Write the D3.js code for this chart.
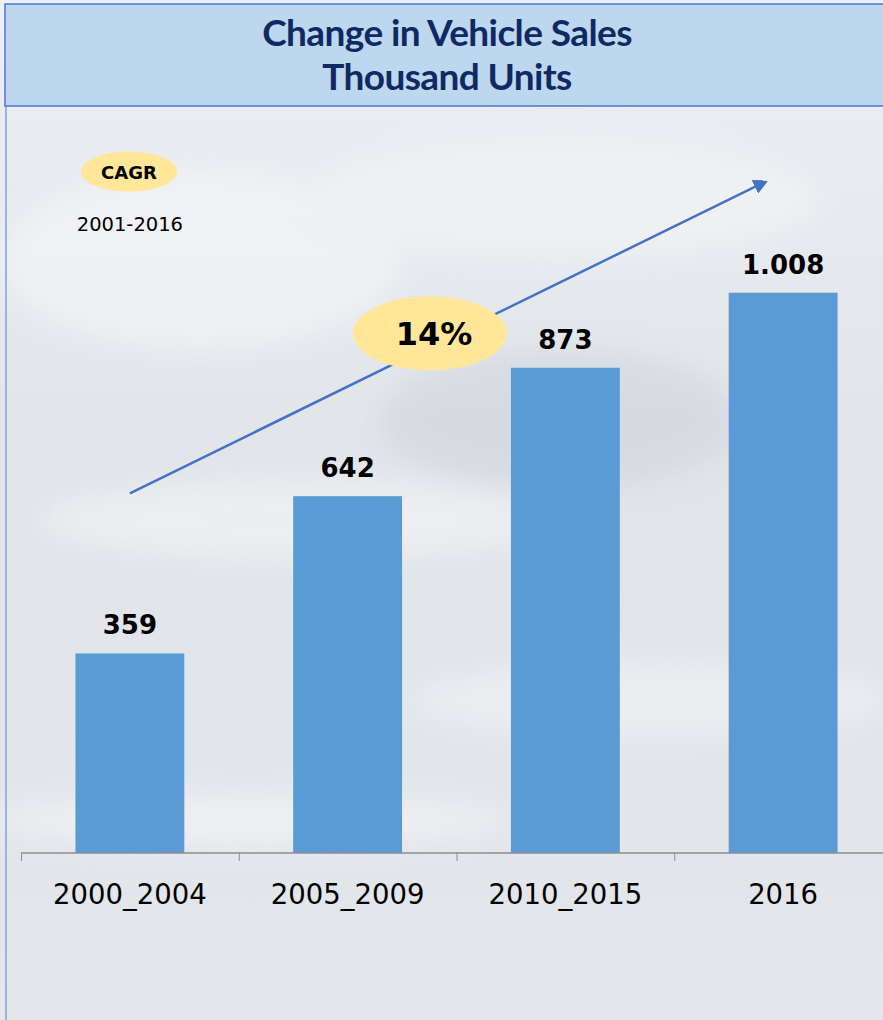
<!DOCTYPE html>
<html>
<head>
<meta charset="utf-8">
<script src="https://cdn.jsdelivr.net/npm/d3@7/dist/d3.min.js"></script>
<style>
  html, body { margin: 0; padding: 0; background: #e6e9ee; }
  svg { display: block; }
</style>
</head>
<body>
<div id="chart"></div>
<script>
// chart data
const categories = ['2000_2004', '2005_2009', '2010_2015', '2016'];
const sales = [359, 642, 873, 1008];
const valueLabels = ['359', '642', '873', '1.008'];
const titleLines = ['Change in Vehicle Sales', 'Thousand Units'];
const cagrText = '14%';
const cagrPeriod = '2001-2016';

const width = 883, height = 1020;

const svg = d3.select('#chart').append('svg')
  .attr('width', width)
  .attr('height', height);

const defs = svg.append('defs');

// soft photo-like backdrop
const bg = defs.append('linearGradient').attr('id', 'bg')
  .attr('x1', 0).attr('y1', 0).attr('x2', 0).attr('y2', 1);
bg.append('stop').attr('offset', '0%').attr('stop-color', '#eceff3');
bg.append('stop').attr('offset', '45%').attr('stop-color', '#e1e4e9');
bg.append('stop').attr('offset', '100%').attr('stop-color', '#e3e6eb');

defs.append('filter').attr('id', 'blur')
  .append('feGaussianBlur').attr('stdDeviation', 14);

defs.append('marker').attr('id', 'arrowhead')
  .attr('viewBox', '0 0 10 10')
  .attr('refX', 8).attr('refY', 5)
  .attr('markerWidth', 6).attr('markerHeight', 6)
  .attr('markerUnits', 'strokeWidth')
  .attr('orient', 'auto')
  .append('path').attr('d', 'M0,0 L10,5 L0,10 Z').attr('fill', '#4472c4');

svg.append('rect').attr('width', width).attr('height', height).attr('fill', 'url(#bg)');

// a few faint smears for the washed-out photo texture
const smears = svg.append('g').attr('filter', 'url(#blur)').attr('opacity', 0.55);
smears.append('ellipse').attr('cx', 200).attr('cy', 260).attr('rx', 200).attr('ry', 90).attr('fill', '#f7f8fa');
smears.append('ellipse').attr('cx', 560).attr('cy', 200).attr('rx', 260).attr('ry', 60).attr('fill', '#f4f6f8');
smears.append('ellipse').attr('cx', 560).attr('cy', 420).attr('rx', 180).attr('ry', 70).attr('fill', '#cfd4db');
smears.append('ellipse').attr('cx', 300).attr('cy', 520).attr('rx', 260).attr('ry', 40).attr('fill', '#f5f6f8');
smears.append('ellipse').attr('cx', 650).attr('cy', 700).attr('rx', 240).attr('ry', 35).attr('fill', '#f3f5f7');
smears.append('ellipse').attr('cx', 250).attr('cy', 820).attr('rx', 260).attr('ry', 25).attr('fill', '#f6f7f9');

// left frame line
svg.append('line')
  .attr('x1', 6).attr('x2', 6).attr('y1', 106).attr('y2', height)
  .attr('stroke', '#9db3de').attr('stroke-width', 2);

// title band
svg.append('rect')
  .attr('x', 5).attr('y', 4).attr('width', width).attr('height', 102)
  .attr('fill', '#bdd7ee').attr('stroke', '#4a78cc').attr('stroke-width', 1.5);

svg.append('g').selectAll('text')
  .data(titleLines)
  .join('text')
  .attr('x', 447)
  .attr('y', (d, i) => 46 + i * 44)
  .attr('text-anchor', 'middle')
  .attr('font-family', 'Lato, sans-serif')
  .attr('font-weight', 700)
  .attr('font-size', 37)
  .attr('letter-spacing', -0.6)
  .attr('fill', '#0f2a63')
  .text(d => d);

// scales
const x = d3.scaleBand()
  .domain(categories)
  .range([21, 892])
  .paddingInner(0.5)
  .paddingOuter(0.25);

const xi = d3.scaleLinear().domain([0, categories.length]).range([21, 892]);

const y = d3.scaleLinear()
  .domain([0, 1200])
  .range([853, 186]);

// bars
svg.append('g').selectAll('rect')
  .data(sales)
  .join('rect')
  .attr('x', (d, i) => x(categories[i]))
  .attr('y', d => y(d))
  .attr('width', x.bandwidth())
  .attr('height', d => y(0) - y(d))
  .attr('fill', '#5b9bd5');

// value labels
svg.append('g').selectAll('text')
  .data(sales)
  .join('text')
  .attr('x', (d, i) => x(categories[i]) + x.bandwidth() / 2)
  .attr('y', d => y(d) - 19)
  .attr('text-anchor', 'middle')
  .attr('font-family', 'DejaVu Sans, sans-serif')
  .attr('font-weight', 700)
  .attr('font-size', 26)
  .attr('fill', '#000')
  .text((d, i) => valueLabels[i]);

// axis: tick marks at category boundaries
const tickAxis = svg.append('g')
  .attr('transform', `translate(0,${y(0)})`)
  .call(d3.axisBottom(xi).tickValues(d3.range(categories.length + 1)).tickSize(8).tickSizeOuter(0).tickFormat(''));
tickAxis.select('.domain').remove();
tickAxis.selectAll('line').attr('stroke', '#8c8c8c');

svg.append('line')
  .attr('x1', xi(0)).attr('x2', width)
  .attr('y1', y(0)).attr('y2', y(0))
  .attr('stroke', '#8c8c8c').attr('stroke-width', 1.5);

const labelAxis = svg.append('g')
  .attr('transform', `translate(0,${y(0)})`)
  .call(d3.axisBottom(x).tickSize(0).tickPadding(31));
labelAxis.select('.domain').remove();
labelAxis.selectAll('text')
  .attr('font-family', 'DejaVu Sans, sans-serif')
  .attr('font-size', 27.5)
  .attr('fill', '#000');

// CAGR trend arrow
svg.append('line')
  .attr('x1', xi(0.5)).attr('y1', y(647))
  .attr('x2', xi(3.42)).attr('y2', y(1208))
  .attr('stroke', '#4472c4').attr('stroke-width', 2.5)
  .attr('marker-end', 'url(#arrowhead)');

// CAGR badge (legend)
svg.append('ellipse')
  .attr('cx', xi(0.496)).attr('cy', y(1226))
  .attr('rx', 48).attr('ry', 20)
  .attr('fill', '#ffe699');
svg.append('text')
  .attr('x', xi(0.496)).attr('y', y(1226) + 7)
  .attr('text-anchor', 'middle')
  .attr('font-family', 'DejaVu Sans, sans-serif')
  .attr('font-weight', 700)
  .attr('font-size', 18)
  .text('CAGR');
svg.append('text')
  .attr('x', xi(0.5)).attr('y', y(1119))
  .attr('text-anchor', 'middle')
  .attr('font-family', 'DejaVu Sans, sans-serif')
  .attr('font-size', 19.5)
  .text(cagrPeriod);

// CAGR value bubble
svg.append('ellipse')
  .attr('cx', xi(1.878)).attr('cy', y(935))
  .attr('rx', 77).attr('ry', 37)
  .attr('fill', '#ffe699');
svg.append('text')
  .attr('x', xi(1.878) + 4).attr('y', y(935) + 12)
  .attr('text-anchor', 'middle')
  .attr('font-family', 'DejaVu Sans, sans-serif')
  .attr('font-weight', 700)
  .attr('font-size', 32)
  .text(cagrText);
</script>
</body>
</html>
